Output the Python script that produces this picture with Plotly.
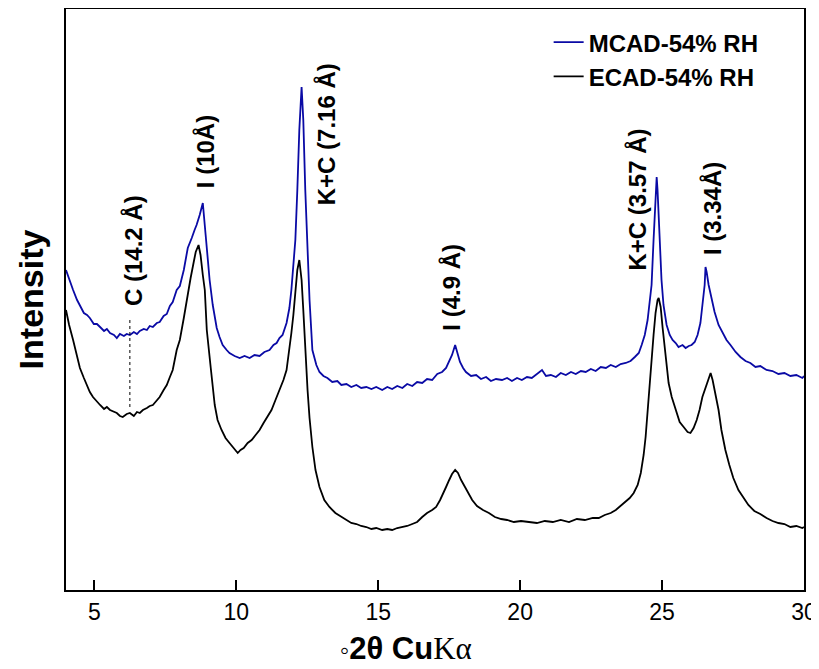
import plotly.graph_objects as go

# ---- data (2-theta in degrees, intensity in arbitrary units) ----
mcad_x = [4.00, 4.14, 4.25, 4.39, 4.49, 4.63, 4.74, 4.84, 4.98, 5.09, 5.20, 5.34, 5.44, 5.55, 5.69, 5.79,
          5.90, 6.04, 6.14, 6.25, 6.39, 6.50, 6.60, 6.74, 6.85, 6.95, 7.06, 7.20, 7.30, 7.44, 7.55, 7.66,
          7.76, 7.90, 8.01, 8.15, 8.29, 8.36, 8.43, 8.53, 8.60, 8.71, 8.82, 8.92, 8.99, 9.06, 9.17, 9.31,
          9.41, 9.52, 9.66, 9.76, 9.94, 10.12, 10.29, 10.47, 10.64, 10.82, 10.99, 11.17, 11.31, 11.42,
          11.52, 11.63, 11.77, 11.87, 11.94, 12.01, 12.08, 12.15, 12.22, 12.30, 12.36, 12.43, 12.51,
          12.58, 12.68, 12.82, 12.93, 13.07, 13.21, 13.38, 13.56, 13.70, 13.88, 14.05, 14.23, 14.40,
          14.58, 14.76, 14.93, 15.14, 15.32, 15.49, 15.67, 15.85, 16.02, 16.20, 16.37, 16.55, 16.72,
          16.90, 17.08, 17.25, 17.39, 17.50, 17.60, 17.71, 17.78, 17.88, 17.99, 18.09, 18.27, 18.45,
          18.62, 18.80, 18.97, 19.15, 19.36, 19.54, 19.71, 19.89, 20.06, 20.24, 20.41, 20.59, 20.77,
          20.91, 21.08, 21.26, 21.43, 21.61, 21.79, 21.96, 22.14, 22.31, 22.49, 22.66, 22.84, 23.02,
          23.19, 23.37, 23.54, 23.72, 23.89, 24.04, 24.18, 24.28, 24.39, 24.49, 24.56, 24.63, 24.70,
          24.77, 24.81, 24.84, 24.91, 24.98, 25.05, 25.16, 25.27, 25.37, 25.48, 25.58, 25.72, 25.83,
          25.94, 26.04, 26.15, 26.25, 26.35, 26.42, 26.50, 26.53, 26.57, 26.64, 26.74, 26.85, 26.99,
          27.13, 27.27, 27.41, 27.59, 27.76, 27.94, 28.11, 28.29, 28.46, 28.68, 28.89, 29.10, 29.31,
          29.52, 29.73, 29.94, 30.00]
mcad_y = [320, 308, 300, 290, 285, 277, 275, 272, 266, 266, 263, 259, 261, 257, 255, 252,
          256, 254, 256, 255, 258, 256, 259, 261, 260, 264, 263, 267, 268, 274, 276, 284,
          288, 300, 304, 320, 342, 348, 352, 360, 365, 375, 387, 355, 330, 310, 285, 262,
          253, 245, 240, 237, 234, 232, 234, 232, 235, 234, 238, 240, 245, 247,
          252, 255, 267, 282, 300, 325, 350, 400, 460, 503, 470, 400, 340,
          290, 240, 225, 218, 214, 212, 208, 209, 205, 206, 203, 205, 202,
          203, 201, 203, 200, 203, 201, 204, 202, 206, 204, 208, 207, 211,
          210, 216, 218, 222, 228, 235, 245, 238, 228, 222, 218, 214, 215,
          211, 213, 209, 211, 210, 212, 209, 212, 210, 213, 212, 216, 220,
          214, 215, 213, 217, 215, 218, 216, 219, 218, 221, 219, 223, 222,
          225, 223, 226, 227, 229, 233, 237, 245, 255, 270, 285, 305, 350,
          390, 413, 400, 355, 310, 285, 265, 255, 250, 247, 243, 245, 242,
          244, 245, 248, 255, 267, 285, 305, 323, 318, 305, 292, 278, 265,
          257, 250, 245, 238, 233, 229, 227, 223, 224, 220, 219, 216, 217,
          214, 215, 212, 214]

ecad_x = [4.00, 4.11, 4.25, 4.35, 4.49, 4.63, 4.74, 4.84, 4.95, 5.09, 5.20, 5.34, 5.44, 5.55, 5.69, 5.79,
          5.90, 6.00, 6.14, 6.25, 6.39, 6.50, 6.60, 6.71, 6.85, 6.95, 7.06, 7.20, 7.30, 7.44, 7.55, 7.66,
          7.76, 7.90, 8.01, 8.15, 8.29, 8.39, 8.50, 8.57, 8.67, 8.74, 8.82, 8.89, 8.96, 9.03, 9.10, 9.24,
          9.34, 9.48, 9.62, 9.76, 9.91, 10.05, 10.15, 10.26, 10.40, 10.54, 10.68, 10.82, 10.96, 11.10,
          11.24, 11.38, 11.52, 11.66, 11.77, 11.87, 11.94, 12.01, 12.08, 12.15, 12.22, 12.30, 12.36,
          12.43, 12.51, 12.58, 12.68, 12.79, 12.93, 13.10, 13.28, 13.49, 13.70, 13.88, 14.05, 14.23,
          14.40, 14.58, 14.76, 14.93, 15.14, 15.32, 15.49, 15.67, 15.85, 16.02, 16.20, 16.37, 16.55,
          16.72, 16.90, 17.04, 17.18, 17.29, 17.39, 17.50, 17.60, 17.71, 17.81, 17.92, 18.02, 18.17,
          18.31, 18.48, 18.69, 18.90, 19.11, 19.33, 19.54, 19.78, 20.03, 20.31, 20.59, 20.87, 21.15,
          21.43, 21.72, 22.00, 22.28, 22.56, 22.77, 22.98, 23.19, 23.37, 23.54, 23.72, 23.86, 24.00,
          24.14, 24.25, 24.35, 24.42, 24.49, 24.56, 24.63, 24.70, 24.77, 24.84, 24.88, 24.95, 25.02,
          25.09, 25.16, 25.23, 25.34, 25.48, 25.62, 25.76, 25.90, 26.00, 26.11, 26.22, 26.32, 26.42,
          26.53, 26.64, 26.71, 26.78, 26.88, 26.99, 27.09, 27.23, 27.37, 27.51, 27.69, 27.87, 28.04,
          28.25, 28.46, 28.68, 28.89, 29.10, 29.31, 29.52, 29.73, 29.94, 30.00]
ecad_y = [280, 265, 250, 238, 222, 212, 205, 198, 193, 188, 185, 181, 183, 180, 178, 177,
          174, 173, 176, 177, 174, 178, 177, 180, 182, 184, 185, 190, 193, 200, 205, 213,
          220, 240, 250, 272, 297, 312, 328, 338, 345, 335, 315, 300, 260, 238, 222, 185,
          170, 160, 152, 147, 142, 137, 140, 142, 147, 150, 155, 160, 167, 173,
          180, 190, 200, 210, 220, 240, 257, 275, 300, 320, 330, 310, 280,
          240, 200, 172, 143, 120, 103, 90, 83, 77, 73, 70, 67, 66,
          64, 63, 61, 62, 60, 61, 60, 62, 63, 64, 66, 68, 73,
          77, 80, 83, 90, 96, 103, 110, 116, 120, 117, 110, 105, 98,
          90, 84, 80, 77, 73, 71, 70, 68, 69, 68, 67, 69, 68,
          70, 68, 71, 70, 72, 72, 75, 77, 80, 84, 88, 92, 97,
          105, 117, 135, 153, 180, 200, 230, 255, 277, 290, 292, 283, 262,
          245, 225, 207, 193, 180, 168, 163, 158, 157, 162, 170, 180, 193,
          203, 212, 217, 210, 197, 180, 160, 140, 125, 112, 100, 92, 85,
          79, 76, 72, 69, 67, 66, 63, 64, 62, 63]

series_names = ["MCAD-54% RH", "ECAD-54% RH"]
x_ticks = [5, 10, 15, 20, 25, 30]

peak_labels = ["C (14.2 Å)", "I (10Å)", "K+C (7.16 Å)", "I (4.9 Å)", "K+C (3.57 Å)", "I (3.34Å)"]
peak_label_x = [6.38, 8.92, 13.17, 17.57, 24.10, 26.78]
peak_label_y = [282, 400, 383, 257, 317, 333]

c_line_x = 6.25
c_line_y = [183, 270]

x_title = "<span style='font-size:26px'>◦</span><b>2θ Cu</b><span style='font-family:Liberation Serif'>Kα</span>"
y_title = "<b>Intensity</b>"

BOLD = "Liberation Sans, Arial, sans-serif"

fig = go.Figure()
fig.add_trace(go.Scatter(x=mcad_x, y=mcad_y, mode="lines", name=series_names[0],
                         line=dict(color="#0A0AA5", width=1.8)))
fig.add_trace(go.Scatter(x=ecad_x, y=ecad_y, mode="lines", name=series_names[1],
                         line=dict(color="black", width=1.8)))

for t, px, py in zip(peak_labels, peak_label_x, peak_label_y):
    fig.add_annotation(x=px, y=py, xref="x", yref="y", text="<b>" + t + "</b>",
                       textangle=-90, showarrow=False, xanchor="center", yanchor="bottom",
                       font=dict(family=BOLD, size=24, color="black"))

fig.add_shape(type="line", x0=c_line_x, x1=c_line_x, y0=c_line_y[0], y1=c_line_y[1],
              xref="x", yref="y", line=dict(color="black", width=1, dash="dot"))

# x-axis title (placed as paper annotation, slightly left of centre as in the reference)
fig.add_annotation(x=0.4607, y=-0.101, xref="paper", yref="paper", text=x_title,
                   showarrow=False, xanchor="center", yanchor="middle",
                   font=dict(family=BOLD, size=31, color="black"))

fig.update_layout(
    width=811, height=661,
    margin=dict(l=58, r=15, t=1, b=79, autoexpand=False),
    paper_bgcolor="white", plot_bgcolor="white",
    showlegend=True,
    legend=dict(x=0.654, y=0.981, xanchor="left", yanchor="top",
                bgcolor="rgba(0,0,0,0)", borderwidth=0, tracegroupgap=0,
                font=dict(family=BOLD, size=24, color="black", weight="bold")),
    xaxis=dict(range=[4, 30], tickvals=x_ticks, ticktext=[str(v) for v in x_ticks],
               ticks="inside", ticklen=10, tickwidth=2, tickcolor="black",
               showline=True, linecolor="black", linewidth=2, mirror=True,
               showgrid=False, zeroline=False, automargin=False,
               tickfont=dict(family=BOLD, size=23, color="black")),
    yaxis=dict(range=[0, 581], showticklabels=False, ticks="",
               showline=True, linecolor="black", linewidth=2, mirror=True,
               showgrid=False, zeroline=False, automargin=False,
               title=dict(text=y_title, font=dict(family=BOLD, size=34, color="black"),
                          standoff=10)),
)

fig.write_html("out.html")
